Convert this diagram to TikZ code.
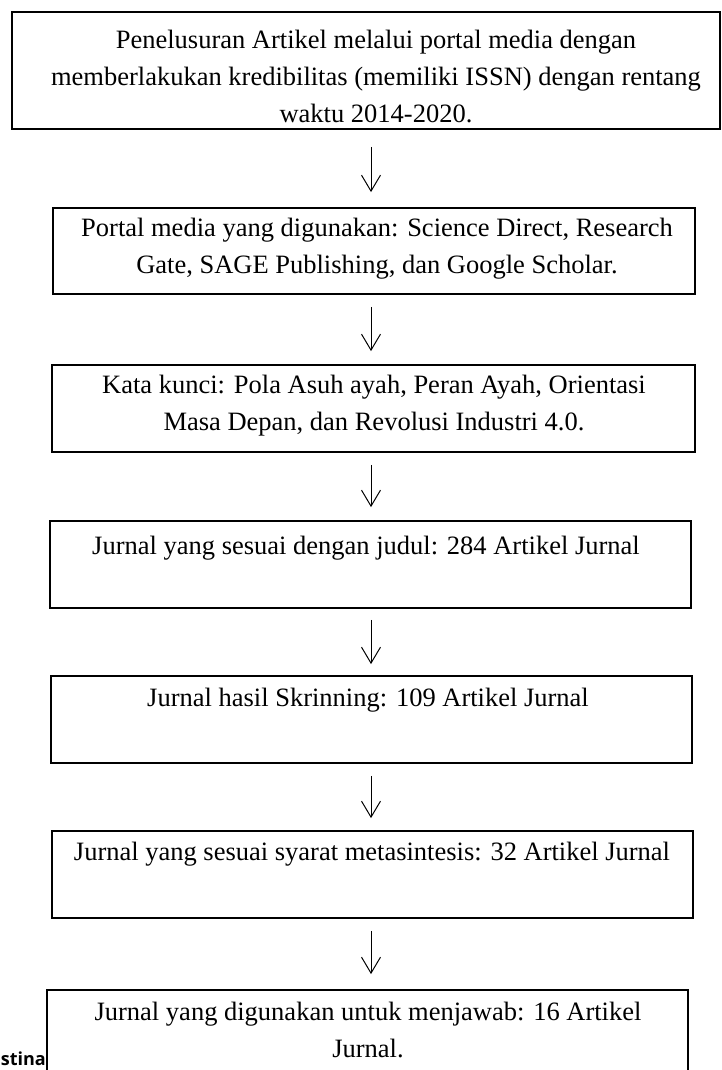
\documentclass[tikz,border=0pt]{standalone}
\usepackage{fontspec}
\setmainfont{Liberation Serif}
\newfontfamily\authorfont{Open Sans}
\usetikzlibrary{arrows.meta,calc}
\begin{document}
\begin{tikzpicture}[x=1pt,y=-1pt,
  box/.style={draw, line width=1.8pt, inner sep=0pt, minimum width=#1},
  txt/.style={align=center, inner sep=0pt, anchor=north, font=\fontsize{26.5}{37}\selectfont},
  arr/.style={line width=1pt, -{Straight Barb[length=16pt,width=19pt,line width=1pt]}}]
\useasboundingbox (0,0) rectangle (721,1070);
\coordinate (ax) at (371,0);
% boxes
\node[box=708pt, minimum height=117pt] (b1) at (366,70.5) {};
\node[box=642pt, minimum height=86pt] (b2) at (374,251) {};
\node[box=643pt, minimum height=87pt] (b3) at (373.5,408.5) {};
\node[box=641pt, minimum height=87pt] (b4) at (370.5,564.5) {};
\node[box=641pt, minimum height=87pt] (b5) at (371.5,719.5) {};
\node[box=641pt, minimum height=87pt] (b6) at (372.5,874.5) {};
\node[box=641pt, minimum height=87pt] (b7) at (367.5,1033.5) {};
% texts
\node[txt] (t1) at (376,22) {\strut Penelusuran Artikel melalui portal media dengan\\ \strut memberlakukan kredibilitas (memiliki ISSN) dengan rentang\\ \strut waktu 2014-2020.};
\node[txt] (t2) at (377,210) {\strut Portal media yang digunakan: Science Direct, Research\\ \strut Gate, SAGE Publishing, dan Google Scholar.};
\node[txt] (t3) at (374,367) {\strut Kata kunci: Pola Asuh ayah, Peran Ayah, Orientasi\\ \strut Masa Depan, dan Revolusi Industri 4.0.};
\node[txt] (t4) at (366,528) {\strut Jurnal yang sesuai dengan judul: 284 Artikel Jurnal};
\node[txt] (t5) at (368,680) {\strut Jurnal hasil Skrinning: 109 Artikel Jurnal};
\node[txt] (t6) at (372,834) {\strut Jurnal yang sesuai syarat metasintesis: 32 Artikel Jurnal};
\node[txt] (t7) at (368,994) {\strut Jurnal yang digunakan untuk menjawab: 16 Artikel\\ \strut Jurnal.};
\node[anchor=base east, inner sep=0pt, font=\authorfont\bfseries\fontsize{18}{20}\selectfont] (au) at (46,1065) {stina};
% arrows
\draw[arr] ($(b1.south -| ax)+(0,17)$) -- ($(b2.north -| ax)+(0,-15)$);
\draw[arr] ($(b2.south -| ax)+(0,12)$) -- ($(b3.north -| ax)+(0,-13)$);
\draw[arr] ($(b3.south -| ax)+(0,12)$) -- ($(b4.north -| ax)+(0,-13)$);
\draw[arr] ($(b4.south -| ax)+(0,11)$) -- ($(b5.north -| ax)+(0,-11)$);
\draw[arr] ($(b5.south -| ax)+(0,12)$) -- ($(b6.north -| ax)+(0,-12)$);
\draw[arr] ($(b6.south -| ax)+(0,12)$) -- ($(b7.north -| ax)+(0,-15)$);
\end{tikzpicture}
\end{document}
